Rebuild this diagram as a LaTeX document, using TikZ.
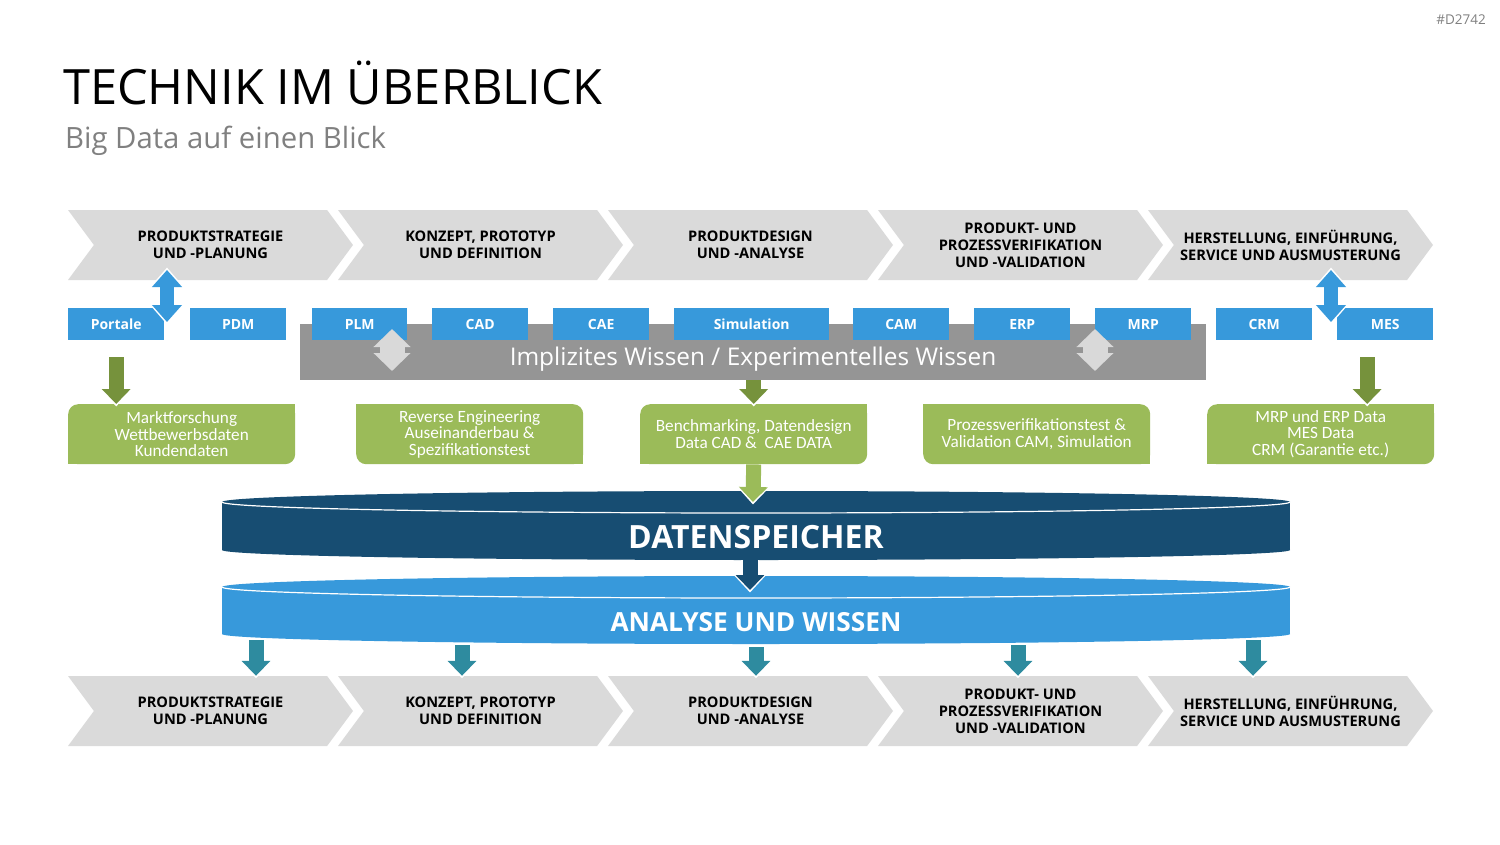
\documentclass[tikz,border=0pt]{standalone}
\usepackage{fontspec}
\setmainfont{Open Sans}
\newfontfamily\notefont{Carlito}
\usetikzlibrary{arrows.meta, positioning, shapes.symbols, calc}
\definecolor{cchev}{HTML}{DADADA}
\definecolor{cblue}{HTML}{3799DB}
\definecolor{cband}{HTML}{959595}
\definecolor{cgreen}{HTML}{9BBB59}
\definecolor{cdkgreen}{HTML}{76923C}
\definecolor{cnavy}{HTML}{174D72}
\definecolor{cteal}{HTML}{2E8B9F}
\definecolor{clight}{HTML}{D9D9D9}
\definecolor{csub}{HTML}{808080}
\tikzset{
  every picture/.style={x=1pt, y=-1pt},
  headline/.style={font=\fontsize{48.7}{56}\selectfont, inner sep=0pt},
  subline/.style={font=\fontsize{29.3}{33}\selectfont, text=csub, inner sep=0pt},
  tag/.style={font=\fontsize{13.5}{15}\selectfont, text=csub, inner sep=0pt},
  phase/.style={shape=signal, signal to=east, signal from=west, signal pointer angle=107,
    fill=cchev, minimum width=285pt, minimum height=70pt, inner sep=0pt, align=center,
    font=\fontsize{14.6}{17}\selectfont\bfseries},
  tool/.style={fill=cblue, text=white, minimum width=#1pt, minimum height=32pt, inner sep=0pt,
    font=\fontsize{14}{17}\selectfont\bfseries},
  tool/.default=96,
  band/.style={fill=cband, minimum width=906pt, minimum height=56pt, inner sep=0pt},
  finding/.style={fill=cgreen, text=white, rounded corners=10pt, minimum width=227pt,
    minimum height=60pt, inner sep=0pt, align=center, font=\notefont\fontsize{17.2}{16.6}\selectfont},
  vessel/.style={text=white, inner sep=0pt, font=\fontsize{#1}{#1}\selectfont\bfseries},
  halo/.style={preaction={draw=white, line width=18pt, -{Triangle[length=19pt,width=34pt]}, shorten >=-2.5pt}},
  feed/.style={draw=#1, line width=15pt, -{Triangle[length=15pt,width=28pt]}, halo},
  updown/.style={draw=cblue, line width=14pt, {Triangle[length=17pt,width=29pt]}-{Triangle[length=17pt,width=29pt]},
    preaction={draw=white, line width=18pt, {Triangle[length=21pt,width=35pt]}-{Triangle[length=21pt,width=35pt]},
    shorten <=-2.5pt, shorten >=-2.5pt}},
  swap/.style={draw=clight, line width=25pt, {Triangle[length=18pt,width=36pt]}-{Triangle[length=18pt,width=36pt]}},
}

\begin{document}
\begin{tikzpicture}
  \useasboundingbox (0,0) rectangle (1500,844);
  % heading
  \node[headline, anchor=base west] (title) at (63,104) {TECHNIK IM ÜBERBLICK};
  \node[subline, anchor=base west] (subtitle) at (65,148) {Big Data auf einen Blick};
  \node[tag, anchor=base east] (code) at (1486,24) {\#D2742};
  % process chevrons, top and bottom
  \foreach \i/\txt in {1/{PRODUKTSTRATEGIE\\UND -PLANUNG}, 2/{KONZEPT, PROTOTYP\\UND DEFINITION},
      3/{PRODUKTDESIGN\\UND -ANALYSE}, 4/{PRODUKT- UND\\PROZESSVERIFIKATION\\UND -VALIDATION},
      5/{HERSTELLUNG, EINFÜHRUNG,\\SERVICE UND AUSMUSTERUNG}} {
    \node[phase] (chev\i) at ({210.5+270*(\i-1)},245) {\txt};
    \node[phase] (bchev\i) at ({210.5+270*(\i-1)},711) {\txt};
  }
  % knowledge band and tool boxes
  \node[band, anchor=north west] (band) at (300,324) {};
  \node[font=\fontsize{24.4}{28}\selectfont, text=white, inner sep=0pt] (bandtext) at (753,359) {Implizites Wissen / Experimentelles Wissen};
  \foreach \name/\x/\w/\txt in {portale/68/96/Portale, pdm/190/96/PDM, plm/312/95/PLM, cad/432/96/CAD,
      cae/553/96/CAE, sim/674/155/Simulation, cam/853/96/CAM, erp/974/96/ERP, mrp/1095/96/MRP,
      crm/1216/96/CRM, mes/1337/96/MES}
    \node[tool=\w, anchor=north west] (\name) at (\x,308) {\txt};
  \coordinate (sw1a) at (392,329);
  \coordinate (sw1b) at (392,371);
  \coordinate (sw2a) at (1095,329);
  \coordinate (sw2b) at (1095,371);
  \draw[swap] (sw1a) -- (sw1b);
  \draw[swap] (sw2a) -- (sw2b);
  \coordinate (ud1a) at (167,270);
  \coordinate (ud1b) at (167,322);
  \coordinate (ud2a) at (1331,270);
  \coordinate (ud2b) at (1331,322);
  \draw[updown] (ud1a) -- (ud1b);
  \draw[updown] (ud2a) -- (ud2b);
  % findings
  \node[finding, anchor=north west] (g1) at (68,404) {Marktforschung\\Wettbewerbsdaten\\Kundendaten};
  \node[finding, anchor=north west] (g2) at (356,404) {Reverse Engineering\\Auseinanderbau \&\\Spezifikationstest};
  \node[finding, anchor=north west] (g3) at (640,404) {Benchmarking, Datendesign\\Data CAD \&\ \ CAE DATA};
  \node[finding, anchor=north west] (g4) at (923,404) {Prozessverifikationstest \&\\Validation CAM, Simulation};
  \node[finding, anchor=north west] (g5) at (1207,404) {MRP und ERP Data\\MES Data\\CRM (Garantie etc.)};
  \foreach \b in {g1,g3,g5} {
    \fill[cgreen] (\b.north east) rectangle ++(-12,12);
    \fill[cgreen] (\b.south west) rectangle ++(12,-12);
  }
  \foreach \b in {g2,g4} {
    \fill[cgreen] (\b.north west) rectangle ++(12,12);
    \fill[cgreen] (\b.south east) rectangle ++(-12,-12);
  }
  \draw[feed=cdkgreen] ($(portale.south)+(0,17)$) -- (portale.south |- g1.north);
  \draw[feed=cdkgreen] (band.south -| g3.north) -- (g3.north);
  \draw[feed=cdkgreen] ($(mes.south)+(-18,17)$) -- ($(mes.south |- g5.north)+(-18,0)$);
  % data store
  \fill[cnavy] (222,502) rectangle (1290,550);
  \fill[cnavy] (756,550) ellipse [x radius=534, y radius=10];
  \fill[cnavy] (756,502) ellipse [x radius=534, y radius=11];
  \draw[white, line width=1.2pt] (222,502) arc[start angle=180, end angle=0, x radius=534, y radius=11];
  \node[vessel=32] (store) at (756,537) {DATENSPEICHER};
  \coordinate (storetop) at (753,502);
  \draw[feed=cgreen] (g3.south) -- (storetop);
  % analysis
  \fill[cblue] (222,587) rectangle (1290,634);
  \fill[cblue] (756,634) ellipse [x radius=534, y radius=10];
  \fill[cblue] (756,587) ellipse [x radius=534, y radius=11];
  \draw[white, line width=1.2pt] (222,587) arc[start angle=180, end angle=0, x radius=534, y radius=11];
  \node[vessel=26.3] (analyse) at (756,622) {ANALYSE UND WISSEN};
  \coordinate (storebase) at (750,560);
  \coordinate (analysetop) at (750,590);
  \draw[feed=cnavy] (storebase) -- (analysetop);
  \foreach \x/\y/\i in {256/640/1, 462/645/2, 756/647/3, 1018/645/4, 1253/640/5}
    \draw[feed=cteal] (\x,\y) -- (\x,0 |- bchev\i.north);
\end{tikzpicture}
\end{document}
